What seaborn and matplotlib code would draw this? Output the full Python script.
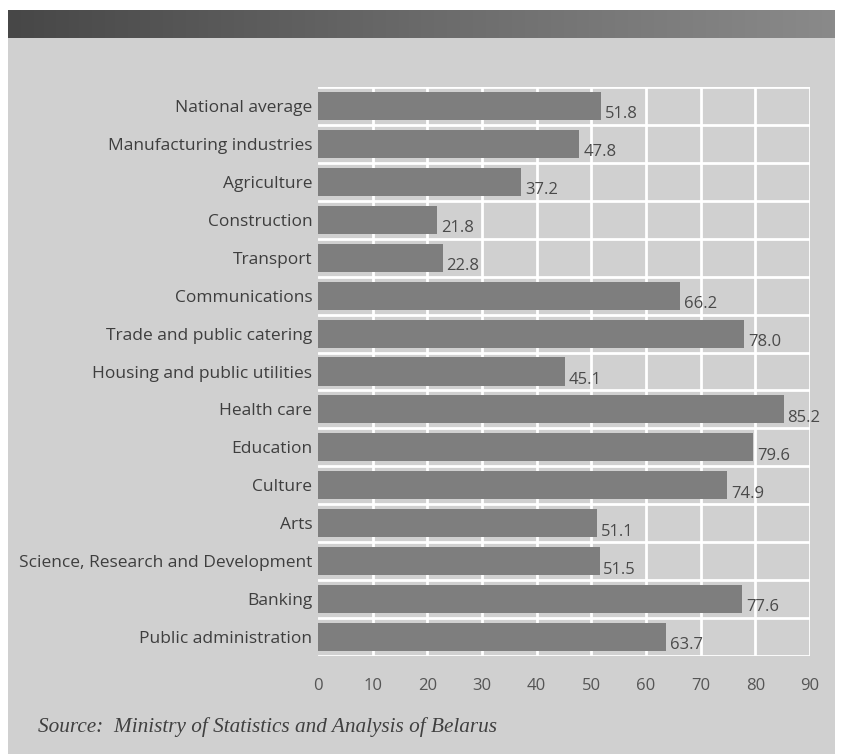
import numpy as np
import pandas as pd
import matplotlib
matplotlib.use("Agg")
import matplotlib.pyplot as plt
import seaborn as sns
from matplotlib.patches import Rectangle

categories = ["National average", "Manufacturing industries", "Agriculture", "Construction",
              "Transport", "Communications", "Trade and public catering",
              "Housing and public utilities", "Health care", "Education", "Culture", "Arts",
              "Science, Research and Development", "Banking", "Public administration"]
values = [51.8, 47.8, 37.2, 21.8, 22.8, 66.2, 78.0, 45.1, 85.2, 79.6, 74.9, 51.1, 51.5, 77.6, 63.7]
xticks = [0, 10, 20, 30, 40, 50, 60, 70, 80, 90]
source = "Source:  Ministry of Statistics and Analysis of Belarus"

df = pd.DataFrame({"category": categories, "value": values})

sns.set_theme(style="white")
plt.rcParams["font.family"] = ["Open Sans", "DejaVu Sans"]

W, H = 843, 754
fig = plt.figure(figsize=(W / 100, H / 100), dpi=100, facecolor="white")

bg = "#d0d0d0"
fig.patches.append(Rectangle((8 / W, 0), (835 - 8) / W, 1 - 10 / H, transform=fig.transFigure,
                             facecolor=bg, edgecolor="none", zorder=-10))
# dark textured band at top
band = fig.add_axes([8 / W, 1 - 38 / H, (835 - 8) / W, 28 / H])
grad = np.linspace(0, 1, 256)[None, :]
band.imshow(grad, aspect="auto", cmap=matplotlib.colors.LinearSegmentedColormap.from_list(
    "g", ["#474747", "#6a6a6a", "#8a8a8a"]))
band.axis("off")

ax = fig.add_axes([318 / W, 1 - 656 / H, (810 - 318) / W, (656 - 87) / H])
ax.set_facecolor(bg)
sns.barplot(data=df, x="value", y="category", orient="h", color="#7e7e7e", saturation=1,
            width=0.74, ax=ax, zorder=2, edgecolor="none", linewidth=0)

ax.set_xlim(0, 90)
ax.set_ylim(len(categories) - 0.5, -0.5)
for xv in xticks[1:]:
    ax.axvline(xv, color="white", lw=2, zorder=1)
for i in range(len(categories) + 1):
    ax.axhline(i - 0.5, color="white", lw=2, zorder=1)

for i, v in enumerate(values):
    ax.text(v + 0.7, i + 0.22, f"{v:.1f}", va="center", ha="left", fontsize=12, color="#4a4a4a",
            zorder=3)

for s in ax.spines.values():
    s.set_visible(False)
ax.set_xticks(xticks)
ax.set_xticklabels([str(t) for t in xticks], fontsize=12, color="#555555")
ax.tick_params(axis="x", length=5, width=1.5, color="white", pad=11, direction="out")
ax.tick_params(axis="y", length=0, pad=4, labelsize=12.5, labelcolor="#3e3e3e")
ax.set_xlabel("")
ax.set_ylabel("")

fig.text(38 / W, 1 - 727 / H, source, fontsize=15.3, style="italic", color="#404040",
         family=["Liberation Serif", "DejaVu Serif"], va="center", ha="left")

fig.savefig("out.png", dpi=100, facecolor=fig.get_facecolor())
